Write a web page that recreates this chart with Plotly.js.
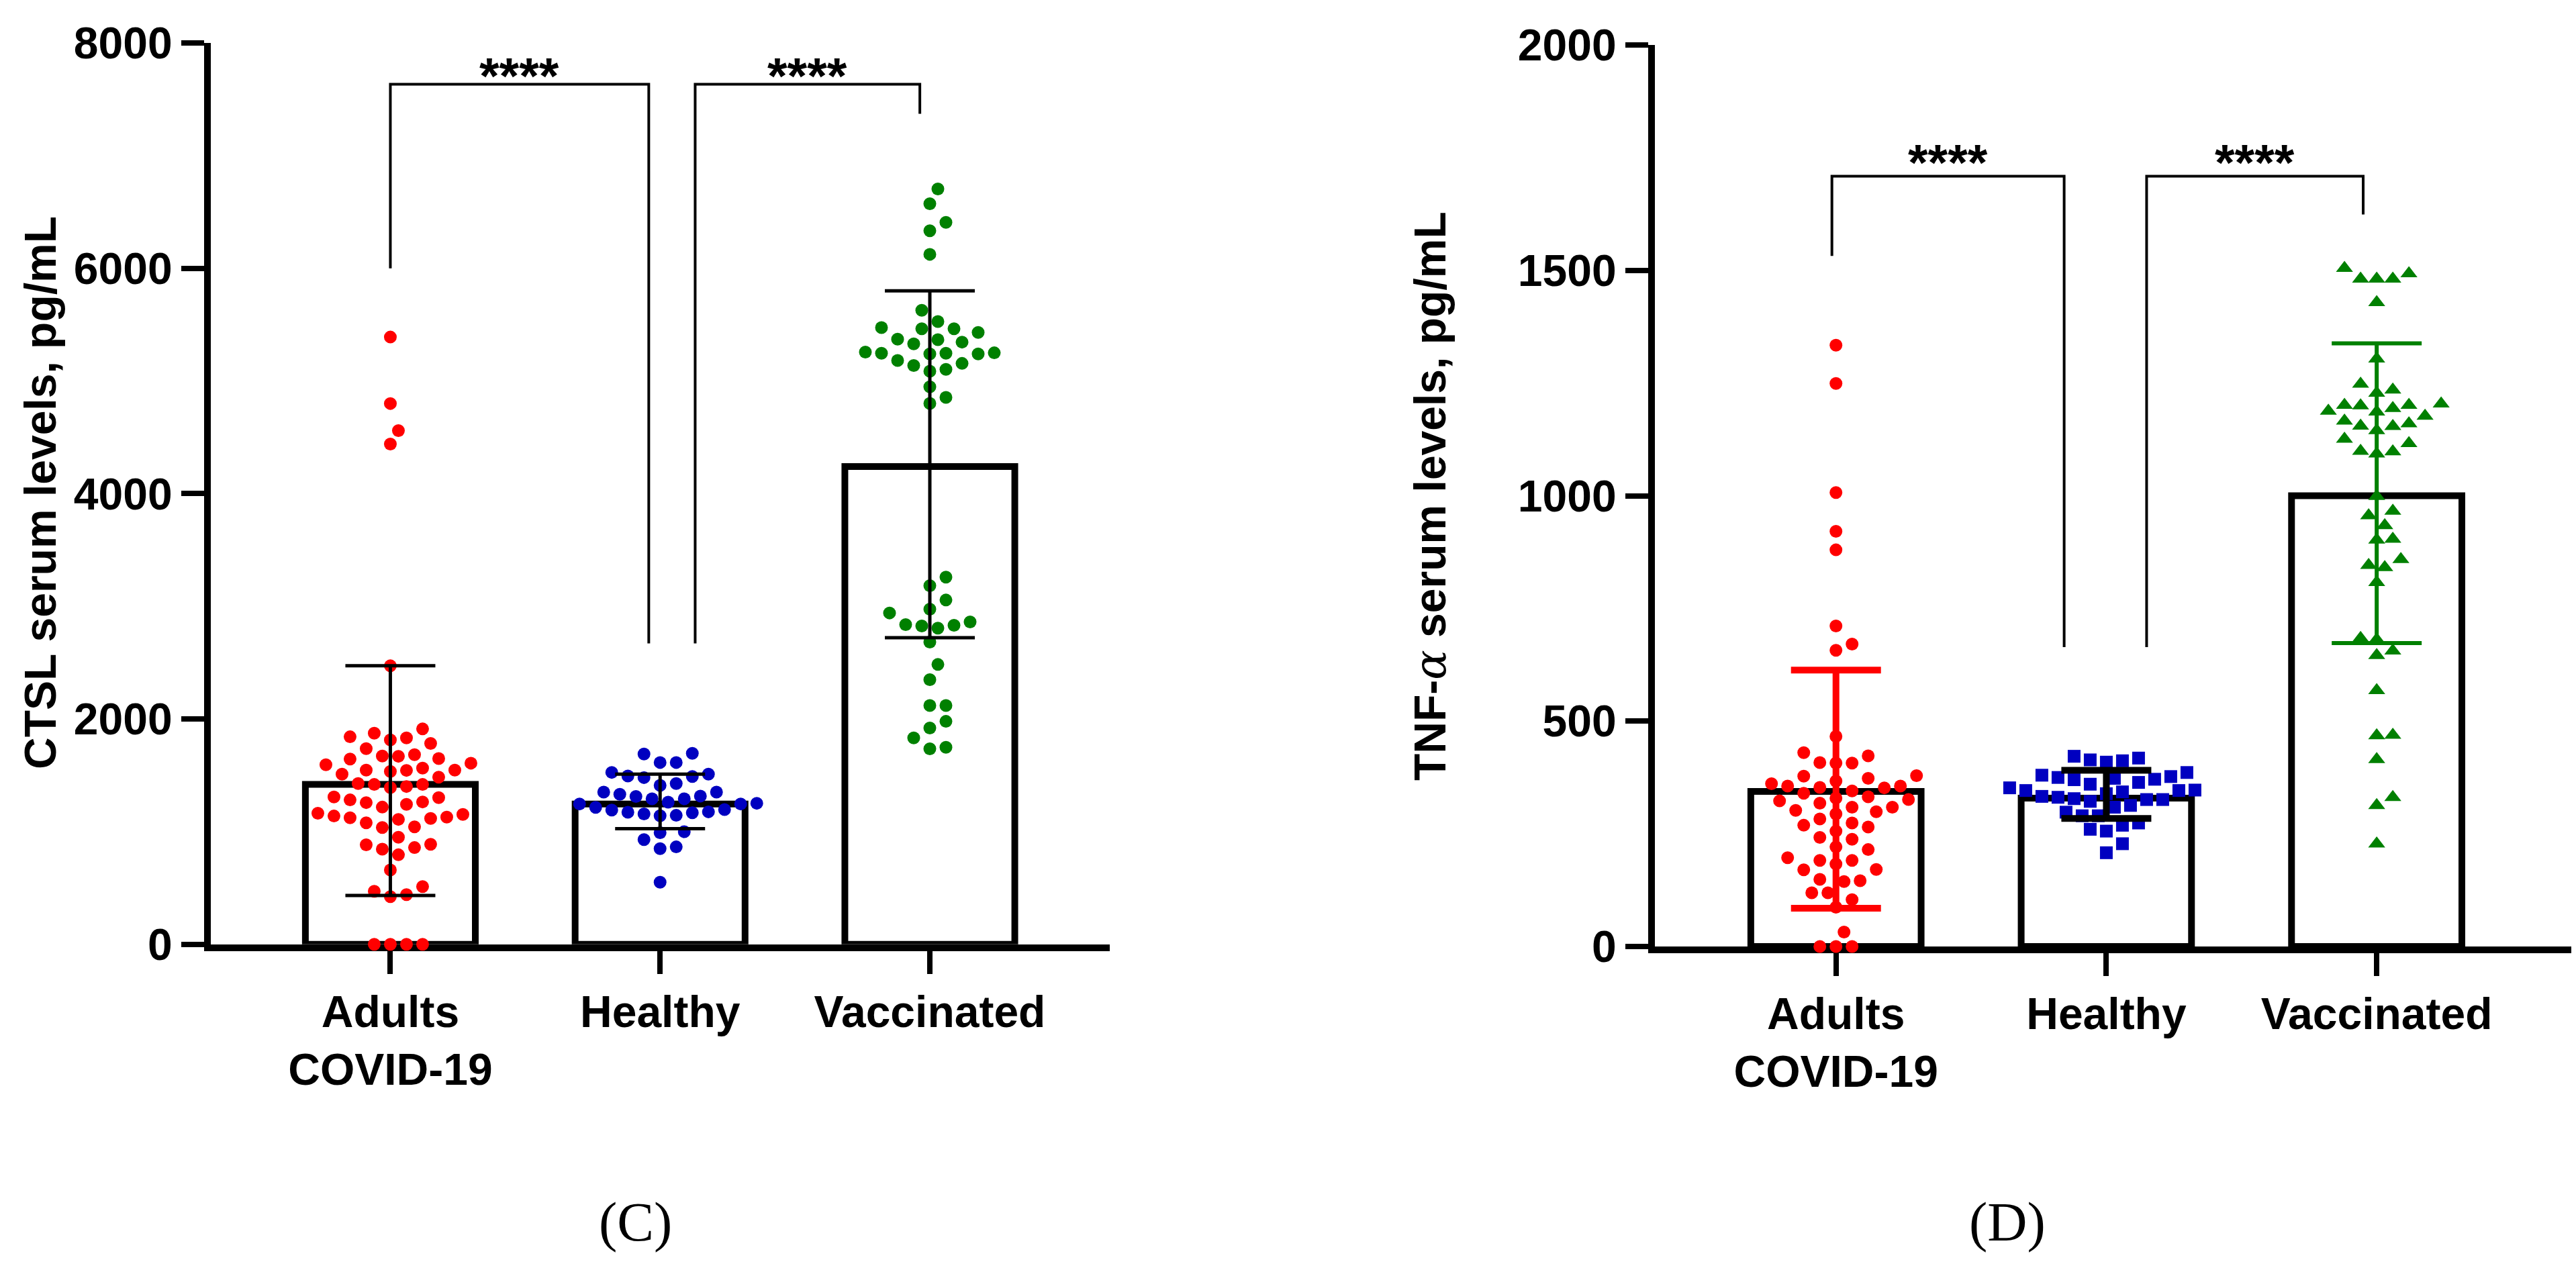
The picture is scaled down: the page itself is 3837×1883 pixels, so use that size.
<!DOCTYPE html>
<html>
<head>
<meta charset="utf-8">
<script src="https://cdn.plot.ly/plotly-3.0.1.min.js"></script>
<style>
  html, body { margin: 0; padding: 0; background: #fff; }
  #chart { width: 3837px; height: 1883px; }
</style>
</head>
<body>
<div id="chart"></div>
<script>
// categories
var groups = ['Adults<br>COVID-19', 'Healthy', 'Vaccinated'];

// (C) CTSL serum levels, pg/mL
var ctslAdults = [5390, 4800, 4560, 4440, 2472, 1912, 1874, 1842, 1832, 1814, 1783, 1737, 1683, 1671, 1669,
  1649, 1645, 1608, 1594, 1564, 1546, 1546, 1544, 1534, 1510, 1484, 1427, 1419, 1419, 1401, 1391, 1308,
  1302, 1282, 1264, 1258, 1242, 1218, 1163, 1153, 1139, 1129, 1123, 1117, 1109, 1079, 1043, 1037, 950,
  888, 884, 859, 845, 795, 660, 513, 471, 441, 423, 0, 0, 0, 0];
var ctslHealthy = [1695, 1689, 1614, 1614, 1526, 1510, 1494, 1490, 1480, 1427, 1411, 1351, 1351, 1332, 1316,
  1312, 1292, 1292, 1262, 1252, 1246, 1246, 1216, 1196, 1192, 1176, 1172, 1168, 1157, 1145, 1141, 1000,
  990, 930, 865, 849, 551];
var ctslVaccinated = [6704, 6573, 6408, 6333, 6124, 5627, 5528, 5474, 5464, 5464, 5431, 5371, 5367, 5345,
  5329, 5256, 5250, 5246, 5246, 5240, 5240, 5182, 5156, 5137, 5103, 5087, 4948, 4854, 4801, 3259, 3183,
  3056, 2975, 2941, 2861, 2838, 2832, 2826, 2806, 2683, 2484, 2349, 2120, 2120, 1979, 1920, 1832, 1749, 1735];
var ctslMean = [1420, 1245, 4240];
var ctslUpper = [2472, 1510, 5800];
var ctslLower = [433, 1027, 2722];

// (D) TNF-alpha serum levels, pg/mL
var tnfAdults = [1334, 1249, 1007, 921, 880, 711, 671, 657, 466, 430, 423, 408, 407, 407, 379, 378, 373,
  367, 361, 356, 356, 353, 352, 345, 340, 332, 329, 326, 323, 318, 309, 309, 302, 299, 294, 283, 274,
  269, 265, 256, 242, 238, 221, 215, 197, 191, 191, 183, 171, 170, 149, 146, 144, 119, 119, 104, 87, 32,
  0, 0, 0];
var tnfHealthy = [422, 418, 414, 412, 409, 386, 380, 377, 375, 373, 371, 370, 364, 360, 352, 347, 346, 346,
  343, 339, 333, 331, 328, 326, 326, 322, 313, 309, 298, 290, 290, 274, 269, 260, 256, 228, 208];
var tnfVaccinated = [1505, 1493, 1481, 1481, 1481, 1429, 1304, 1248, 1235, 1228, 1204, 1201, 1201, 1200,
  1194, 1188, 1186, 1177, 1166, 1160, 1155, 1154, 1145, 1126, 1116, 1099, 1098, 1093, 999, 966, 956, 934,
  904, 902, 859, 846, 841, 808, 684, 681, 656, 646, 568, 469, 468, 415, 331, 313, 228];
var tnfMean = [344, 329, 1000];
var tnfUpper = [613, 391, 1338];
var tnfLower = [85, 284, 673];

// significance brackets: [left leg, right leg], feet heights and top
var ctslBrackets = [
  { x: [0, 0.958], feet: [6000, 2671], top: 7633, label: '****', shift: 13 },
  { x: [1.13, 1.963], feet: [2671, 7371], top: 7633, label: '****', shift: 13 }
];
var tnfBrackets = [
  { x: [-0.015, 0.844], feet: [1532, 664], top: 1709, label: '****', shift: 21 },
  { x: [1.149, 1.95], feet: [664, 1624], top: 1709, label: '****', shift: 21 }
];

// ---- geometry ----
var W = 3837, H = 1883;
var panels = {
  c: { xdom: [0.0818, 0.4308], ydom: [0.2529, 0.966], xr: [-0.666, 2.667], yr: [0, 8000] },
  d: { xdom: [0.6424, 0.9982], ydom: [0.2512, 0.9644], xr: [-0.67, 2.72], yr: [0, 2000] }
};

function pxScales(p) {
  return {
    perCat: (p.xdom[1] - p.xdom[0]) * W / (p.xr[1] - p.xr[0]),
    perUnit: (p.ydom[1] - p.ydom[0]) * H / (p.yr[1] - p.yr[0])
  };
}

// simple beeswarm: put each point at the smallest column offset that does not collide
function swarm(vals, perUnit, diam, step) {
  var order = vals.map(function (v, i) { return i; })
    .sort(function (a, b) { return vals[a] - vals[b]; });
  var placed = [];
  var offs = new Array(vals.length);
  order.forEach(function (i) {
    var py = vals[i] * perUnit;
    for (var k = 0; k < 400; k++) {
      var cand = (k % 2 ? 1 : -1) * Math.ceil(k / 2) * step;
      var ok = placed.every(function (p) {
        var dx = cand - p[0], dy = py - p[1];
        return dx * dx + dy * dy >= diam * diam;
      });
      if (ok) { offs[i] = cand; placed.push([cand, py]); break; }
    }
  });
  return offs;
}

var fontFam = 'Liberation Sans, Arial, Helvetica, sans-serif';
var boldFont = { family: fontFam, size: 66, color: '#000', weight: 'bold' };

function panelTraces(p, xa, ya, sets, means, upper, lower, symbols, colors, errColors, errWidths, sizes) {
  var s = pxScales(p);
  var traces = [{
    type: 'bar', x: [0, 1, 2], y: means, width: 0.63, xaxis: xa, yaxis: ya,
    marker: { color: '#ffffff', line: { color: '#000000', width: 10 } },
    hoverinfo: 'skip', showlegend: false
  }];
  sets.forEach(function (vals, g) {
    var offs = swarm(vals, s.perUnit, 23, 12);
    traces.push({
      type: 'scatter', mode: 'markers', xaxis: xa, yaxis: ya, cliponaxis: false,
      x: offs.map(function (o) { return g + o / s.perCat; }), y: vals,
      marker: { symbol: symbols[g], size: sizes[g], color: colors[g], line: { width: 0 } },
      showlegend: false
    });
  });
  means.forEach(function (m, g) {
    traces.push({
      type: 'scatter', mode: 'markers', xaxis: xa, yaxis: ya, cliponaxis: false,
      x: [g], y: [m], marker: { size: 1, opacity: 0 }, hoverinfo: 'skip', showlegend: false,
      error_y: { type: 'data', symmetric: false, array: [upper[g] - m], arrayminus: [m - lower[g]],
                 color: errColors[g], thickness: errWidths[g], width: 67 }
    });
  });
  return traces;
}

var data = [].concat(
  panelTraces(panels.c, 'x', 'y', [ctslAdults, ctslHealthy, ctslVaccinated], ctslMean, ctslUpper, ctslLower,
    ['circle', 'circle', 'circle'], ['#ff0000', '#0000c0', '#008000'],
    ['#000', '#000', '#000'], [5, 5, 5], [19, 19, 19]),
  panelTraces(panels.d, 'x2', 'y2', [tnfAdults, tnfHealthy, tnfVaccinated], tnfMean, tnfUpper, tnfLower,
    ['circle', 'square', 'triangle-up'], ['#ff0000', '#0000c0', '#008000'],
    ['#ff0000', '#000000', '#008000'], [10, 10, 6], [19, 19, 22])
);

function xAxis(p, anchor) {
  return {
    domain: p.xdom, range: p.xr, anchor: anchor, tickvals: [0, 1, 2], ticktext: groups,
    ticks: 'outside', ticklen: 34, tickwidth: 8, tickcolor: '#000',
    showline: true, linewidth: 10, linecolor: '#000', showgrid: false, zeroline: false,
    tickfont: boldFont, layer: 'below traces', fixedrange: true
  };
}
function yAxis(p, anchor, dtick) {
  return {
    domain: p.ydom, range: p.yr, anchor: anchor, tick0: 0, dtick: dtick,
    ticks: 'outside', ticklen: 34, tickwidth: 8, tickcolor: '#000',
    showline: true, linewidth: 10, linecolor: '#000', showgrid: false, zeroline: false,
    tickfont: boldFont, layer: 'below traces', fixedrange: true
  };
}

var shapes = [], annotations = [];
function addBrackets(list, xref, yref) {
  list.forEach(function (b) {
    shapes.push({
      type: 'path', xref: xref, yref: yref,
      path: 'M' + b.x[0] + ',' + b.feet[0] + ' L' + b.x[0] + ',' + b.top +
            ' L' + b.x[1] + ',' + b.top + ' L' + b.x[1] + ',' + b.feet[1],
      line: { color: '#000', width: 4 }
    });
    annotations.push({
      xref: xref, yref: yref, x: (b.x[0] + b.x[1]) / 2, y: b.top, yshift: b.shift,
      text: b.label, showarrow: false, xanchor: 'center', yanchor: 'middle',
      font: { family: fontFam, size: 76, color: '#000', weight: 'bold' }
    });
  });
}
addBrackets(ctslBrackets, 'x', 'y');
addBrackets(tnfBrackets, 'x2', 'y2');

// axis titles and panel letters
annotations.push({
  xref: 'paper', yref: 'paper', x: 60 / W, y: 0.6102, textangle: -90, showarrow: false,
  text: 'CTSL serum levels, pg/mL', font: boldFont, xanchor: 'center', yanchor: 'middle'
});
annotations.push({
  xref: 'paper', yref: 'paper', x: 2130 / W, y: 0.6075, textangle: -90, showarrow: false,
  text: 'TNF-<span style="font-family:DejaVu Serif;font-weight:normal"><i>α</i></span> serum levels, pg/mL',
  font: boldFont, xanchor: 'center', yanchor: 'middle'
});
annotations.push({
  xref: 'paper', yref: 'paper', x: 946 / W, y: 0.033, showarrow: false, text: '(C)',
  xanchor: 'center', yanchor: 'middle',
  font: { family: 'Liberation Serif, Times New Roman, serif', size: 82, color: '#000' }
});
annotations.push({
  xref: 'paper', yref: 'paper', x: 2990 / W, y: 0.033, showarrow: false, text: '(D)',
  xanchor: 'center', yanchor: 'middle',
  font: { family: 'Liberation Serif, Times New Roman, serif', size: 82, color: '#000' }
});

var layout = {
  width: W, height: H,
  margin: { l: 0, r: 0, t: 0, b: 0 },
  paper_bgcolor: '#ffffff', plot_bgcolor: 'rgba(0,0,0,0)',
  showlegend: false, barmode: 'overlay',
  xaxis: xAxis(panels.c, 'y'), yaxis: yAxis(panels.c, 'x', 2000),
  xaxis2: xAxis(panels.d, 'y2'), yaxis2: yAxis(panels.d, 'x2', 500),
  shapes: shapes, annotations: annotations,
  font: { family: fontFam, color: '#000' }
};

Plotly.newPlot('chart', data, layout, { staticPlot: true });
</script>
</body>
</html>
